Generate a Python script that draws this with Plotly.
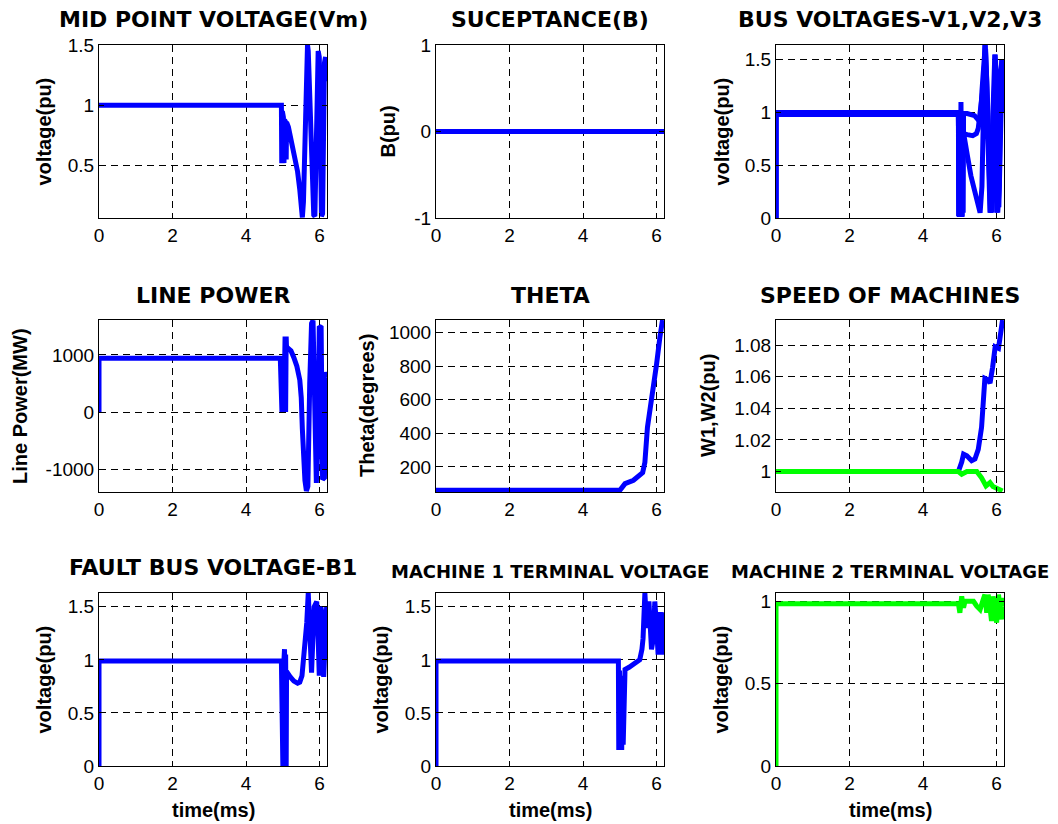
import plotly.graph_objects as go

# ---------------- data ----------------
x_ticks = [0, 2, 4, 6]
x_ticktext = ["0", "2", "4", "6"]

# 1) Mid point voltage Vm (pu)
t_vm = [0, 4.96, 4.97, 4.985, 5.0, 5.015, 5.03, 5.045, 5.06, 5.075, 5.09, 5.1, 5.15, 5.2, 5.27,
        5.33, 5.4, 5.46, 5.5, 5.53, 5.56, 5.6, 5.63, 5.67, 5.69, 5.72, 5.75, 5.8, 5.84, 5.87,
        5.9, 5.93, 5.96, 5.99, 6.02, 6.05, 6.08, 6.1, 6.13, 6.16, 6.19]
v_vm = [1.0, 1.0, 0.52, 0.95, 0.52, 0.9, 0.52, 0.88, 0.52, 0.86, 0.55, 0.86, 0.82, 0.75, 0.65,
        0.55, 0.45, 0.3, 0.15, 0.07, 0.2, 0.85, 1.15, 1.5, 1.45, 1.1, 0.8, 0.3, 0.09, 0.08,
        0.6, 1.2, 1.45, 1.4, 0.5, 0.08, 0.1, 0.9, 1.35, 1.4, 1.2]

# 2) Susceptance B (pu)
t_b = [0, 6.2]
v_b = [0, 0]

# 3) Bus voltages V1, V2, V3 (pu)
t_v1 = [0, 0, 4.96, 4.97, 4.99, 5.01, 5.03, 5.05, 5.07, 5.09, 5.1, 5.2, 5.3, 5.4, 5.5, 5.56,
        5.6, 5.65, 5.69, 5.73, 5.78, 5.83, 5.88, 5.92, 5.96, 6.0, 6.03, 6.07, 6.11, 6.15, 6.19]
v_v1 = [0, 0.99, 0.99, 0.02, 1.0, 0.02, 1.1, 0.02, 0.98, 0.05, 0.99, 0.99, 0.98, 0.97, 0.93,
        0.95, 1.2, 1.5, 1.64, 1.3, 0.5, 0.05, 0.3, 1.3, 1.55, 1.2, 0.05, 0.3, 1.4, 1.5, 1.1]
t_v2 = [0, 0, 4.96, 4.975, 4.995, 5.015, 5.035, 5.055, 5.075, 5.1, 5.2, 5.35, 5.45, 5.5, 5.55,
        5.62, 5.7, 5.75, 5.82, 5.86, 5.92, 5.97, 6.02, 6.06, 6.12, 6.17, 6.19]
v_v2 = [0, 1.0, 1.0, 0.02, 0.9, 0.02, 0.85, 0.02, 0.9, 0.8, 0.79, 0.78, 0.8, 0.85, 1.0,
        1.2, 1.6, 1.0, 0.2, 0.05, 1.0, 1.5, 0.5, 0.1, 1.0, 1.45, 1.0]
t_v3 = [0, 0, 4.96, 4.98, 5.0, 5.02, 5.04, 5.06, 5.08, 5.1, 5.2, 5.3, 5.45, 5.55, 5.6, 5.64,
        5.68, 5.76, 5.82, 5.9, 5.95, 6.0, 6.05, 6.14, 6.19]
v_v3 = [0, 0.98, 0.98, 0.01, 0.9, 0.01, 0.95, 0.01, 0.85, 0.8, 0.6, 0.4, 0.2, 0.05, 0.3, 1.2,
        1.64, 0.8, 0.05, 1.0, 1.55, 0.05, 0.4, 1.5, 1.2]

# 4) Line power (MW)
t_p = [0, 0, 4.93, 4.945, 4.96, 4.975, 4.99, 5.005, 5.02, 5.035, 5.05, 5.06, 5.075, 5.09, 5.1,
       5.15, 5.22, 5.3, 5.38, 5.46, 5.5, 5.53, 5.56, 5.6, 5.64, 5.68, 5.73, 5.78, 5.82, 5.86,
       5.91, 5.95, 5.99, 6.04, 6.08, 6.13, 6.17, 6.2]
v_p = [0, 940, 940, 0, 940, 0, 940, 0, 940, 0, 940, 1320, 0, 1320, 1100,
       1110, 1070, 950, 800, 560, 250, -300, -800, -1200, -1380, -1300, 500, 1550, 1600, 0,
       -1240, -600, 1500, 1480, -1180, -1150, 700, 600]

# 5) Theta (degrees)
t_th = [0, 5.0, 5.14, 5.37, 5.62, 5.68, 5.75, 5.82, 5.91, 6.0, 6.09, 6.16]
v_th = [60, 60, 100, 120, 166, 226, 436, 536, 696, 816, 976, 1076]

# 6) Speed of machines W1, W2 (pu)
t_w1 = [0, 4.96, 5.05, 5.1, 5.19, 5.32, 5.41, 5.5, 5.59, 5.64, 5.68, 5.77, 5.82, 5.89, 5.96,
        6.05, 6.09, 6.16]
v_w1 = [1.0, 1.0, 1.006, 1.011, 1.010, 1.0068, 1.0079, 1.014, 1.028, 1.041, 1.059, 1.058,
        1.056, 1.066, 1.079, 1.078, 1.0855, 1.096]
t_w2 = [0, 4.96, 5.05, 5.19, 5.46, 5.59, 5.71, 5.77, 5.82, 5.9, 5.96, 6.05, 6.16]
v_w2 = [1.0, 1.0, 0.9983, 1.0, 1.0, 0.996, 0.9909, 0.9925, 0.993, 0.9905, 0.9898, 0.9887, 0.9877]

# 7) Fault bus voltage B1 (pu)
t_fb = [0, 0, 4.96, 4.97, 4.985, 5.0, 5.015, 5.03, 5.045, 5.06, 5.075, 5.09, 5.1, 5.2, 5.3,
        5.4, 5.46, 5.52, 5.56, 5.6, 5.65, 5.69, 5.74, 5.78, 5.85, 5.92, 5.96, 5.99, 6.03,
        6.06, 6.11, 6.15, 6.19]
v_fb = [0, 0.99, 0.99, 0.0, 0.95, 0.0, 0.9, 0.0, 1.1, 0.0, 1.05, 0.0, 0.89, 0.84, 0.8,
        0.78, 0.79, 0.85, 1.0, 1.2, 1.35, 1.63, 1.3, 0.88, 1.5, 1.55, 1.2, 0.85, 1.5,
        1.45, 0.84, 1.2, 1.5]

# 8) Machine 1 terminal voltage (pu)
t_m1 = [0, 0, 4.96, 4.97, 4.99, 5.01, 5.03, 5.05, 5.07, 5.09, 5.11, 5.14, 5.25, 5.37, 5.47,
        5.54, 5.6, 5.63, 5.68, 5.73, 5.79, 5.86, 5.91, 5.95, 6.0, 6.04, 6.1, 6.14, 6.18]
v_m1 = [0, 0.99, 0.99, 0.15, 0.9, 0.15, 0.85, 0.15, 0.8, 0.2, 0.9, 0.91, 0.93, 0.955, 0.98,
        1.0, 1.1, 1.2, 1.63, 1.3, 1.55, 1.1, 1.2, 1.55, 1.3, 1.05, 1.45, 1.05, 1.45]

# 9) Machine 2 terminal voltage (pu)
t_m2 = [0, 0, 4.96, 5.0, 5.05, 5.1, 5.14, 5.24, 5.37, 5.46, 5.55, 5.62, 5.68, 5.73, 5.77,
        5.82, 5.86, 5.9, 5.96, 6.0, 6.05, 6.09, 6.13, 6.17, 6.19]
v_m2 = [0, 0.985, 0.985, 0.93, 1.03, 0.96, 1.0, 1.0, 1.0, 0.97, 0.95, 1.0, 1.04, 0.93, 1.04,
        0.96, 0.88, 1.03, 0.92, 0.87, 1.04, 0.93, 0.89, 1.02, 0.97]

titles = ["MID POINT VOLTAGE(Vm)", "SUCEPTANCE(B)", "BUS VOLTAGES-V1,V2,V3",
          "LINE POWER", "THETA", "SPEED OF MACHINES",
          "FAULT BUS VOLTAGE-B1", "MACHINE 1 TERMINAL VOLTAGE", "MACHINE 2 TERMINAL VOLTAGE"]
ylabels = ["voltage(pu)", "B(pu)", "voltage(pu)",
           "Line Power(MW)", "Theta(degrees)", "W1,W2(pu)",
           "voltage(pu)", "voltage(pu)", "voltage(pu)"]
xlabel = "time(ms)"

yticks = [[0.5, 1, 1.5], [-1, 0, 1], [0, 0.5, 1, 1.5],
          [-1000, 0, 1000], [200, 400, 600, 800, 1000], [1, 1.02, 1.04, 1.06, 1.08],
          [0, 0.5, 1, 1.5], [0, 0.5, 1, 1.5], [0, 0.5, 1]]
yticktext = [["0.5", "1", "1.5"], ["-1", "0", "1"], ["0", "0.5", "1", "1.5"],
             ["-1000", "0", "1000"], ["200", "400", "600", "800", "1000"],
             ["1", "1.02", "1.04", "1.06", "1.08"],
             ["0", "0.5", "1", "1.5"], ["0", "0.5", "1", "1.5"], ["0", "0.5", "1"]]
yranges = [[0.065, 1.5], [-1, 1], [0, 1.64],
           [-1400, 1610], [50, 1076], [0.987, 1.096],
           [0, 1.63], [0, 1.63], [0, 1.05]]
x_range = [0, 6.2]

BLUE = "#0000ff"
GREEN = "#00ff00"
series = [
    [(t_vm, v_vm, BLUE)],
    [(t_b, v_b, BLUE)],
    [(t_v1, v_v1, BLUE), (t_v2, v_v2, BLUE), (t_v3, v_v3, BLUE)],
    [(t_p, v_p, BLUE)],
    [(t_th, v_th, BLUE)],
    [(t_w1, v_w1, BLUE), (t_w2, v_w2, GREEN)],
    [(t_fb, v_fb, BLUE)],
    [(t_m1, v_m1, BLUE)],
    [(t_m2, v_m2, GREEN)],
]

# ---------------- layout geometry (pixels in the 1058x824 window) ----------------
OFF = 8                      # default page body margin
W, H = 1058 - OFF, 824 - OFF  # figure size so that it fits in the window
TITLE_FONT = "DejaVu Sans"
FONT = "Liberation Sans, Arial, sans-serif"
cols_px = [(99, 327), (436, 664), (776, 1004)]
rows_px = [(45, 218), (320, 492), (593, 766)]
title_y = [[20, 20, 20], [295, 295, 295], [567, 571, 571]]
title_size = [[22, 22, 22], [22, 22, 22], [22, 18, 18]]
ylab_x = [[43, 387, 721], [20, 367, 708], [43, 380, 720]]


def px_x(p):
    return (p - OFF) / W


def px_y(p):
    return 1 - (p - OFF) / H


fig = go.Figure()
annotations = []
for i in range(9):
    r, c = divmod(i, 3)
    sfx = "" if i == 0 else str(i + 1)
    xa, ya = "x" + sfx, "y" + sfx
    for (tt, vv, col) in series[i]:
        fig.add_trace(go.Scatter(x=tt, y=vv, mode="lines", xaxis=xa, yaxis=ya,
                                 line=dict(color=col, width=5), showlegend=False,
                                 hoverinfo="skip"))
    x0, x1 = cols_px[c]
    y0, y1 = rows_px[r]
    common = dict(showline=True, linecolor="black", linewidth=1, mirror="ticks",
                  ticks="inside", ticklen=5, tickwidth=1, tickcolor="black",
                  showgrid=True, gridcolor="black", gridwidth=1, griddash="7px,5px",
                  zeroline=False, automargin=False,
                  tickfont=dict(family=FONT, size=19, color="black"))
    fig.layout["xaxis" + sfx] = dict(domain=[px_x(x0), px_x(x1)], anchor=ya, range=x_range,
                                     tickvals=x_ticks, ticktext=x_ticktext, **common)
    fig.layout["yaxis" + sfx] = dict(domain=[px_y(y1), px_y(y0)], anchor=xa,
                                     range=yranges[i], tickvals=yticks[i],
                                     ticktext=yticktext[i], **common)
    annotations.append(dict(text="<b>" + titles[i] + "</b>", x=px_x((x0 + x1) / 2),
                            y=px_y(title_y[r][c]), xref="paper", yref="paper",
                            showarrow=False, xanchor="center", yanchor="middle",
                            font=dict(family=TITLE_FONT, size=title_size[r][c],
                                      color="black")))
    annotations.append(dict(text="<b>" + ylabels[i] + "</b>", x=px_x(ylab_x[r][c]),
                            y=px_y((y0 + y1) / 2), xref="paper", yref="paper",
                            showarrow=False, xanchor="center", yanchor="middle",
                            textangle=-90,
                            font=dict(family=FONT, size=20, color="black")))
    if r == 2:
        annotations.append(dict(text="<b>" + xlabel + "</b>", x=px_x((x0 + x1) / 2),
                                y=px_y(810), xref="paper", yref="paper",
                                showarrow=False, xanchor="center", yanchor="middle",
                                font=dict(family=FONT, size=20, color="black")))

fig.update_layout(width=W, height=H, margin=dict(l=0, r=0, t=0, b=0, autoexpand=False),
                  paper_bgcolor="white", plot_bgcolor="white", template="none",
                  annotations=annotations, showlegend=False)

fig.write_html("out.html")
